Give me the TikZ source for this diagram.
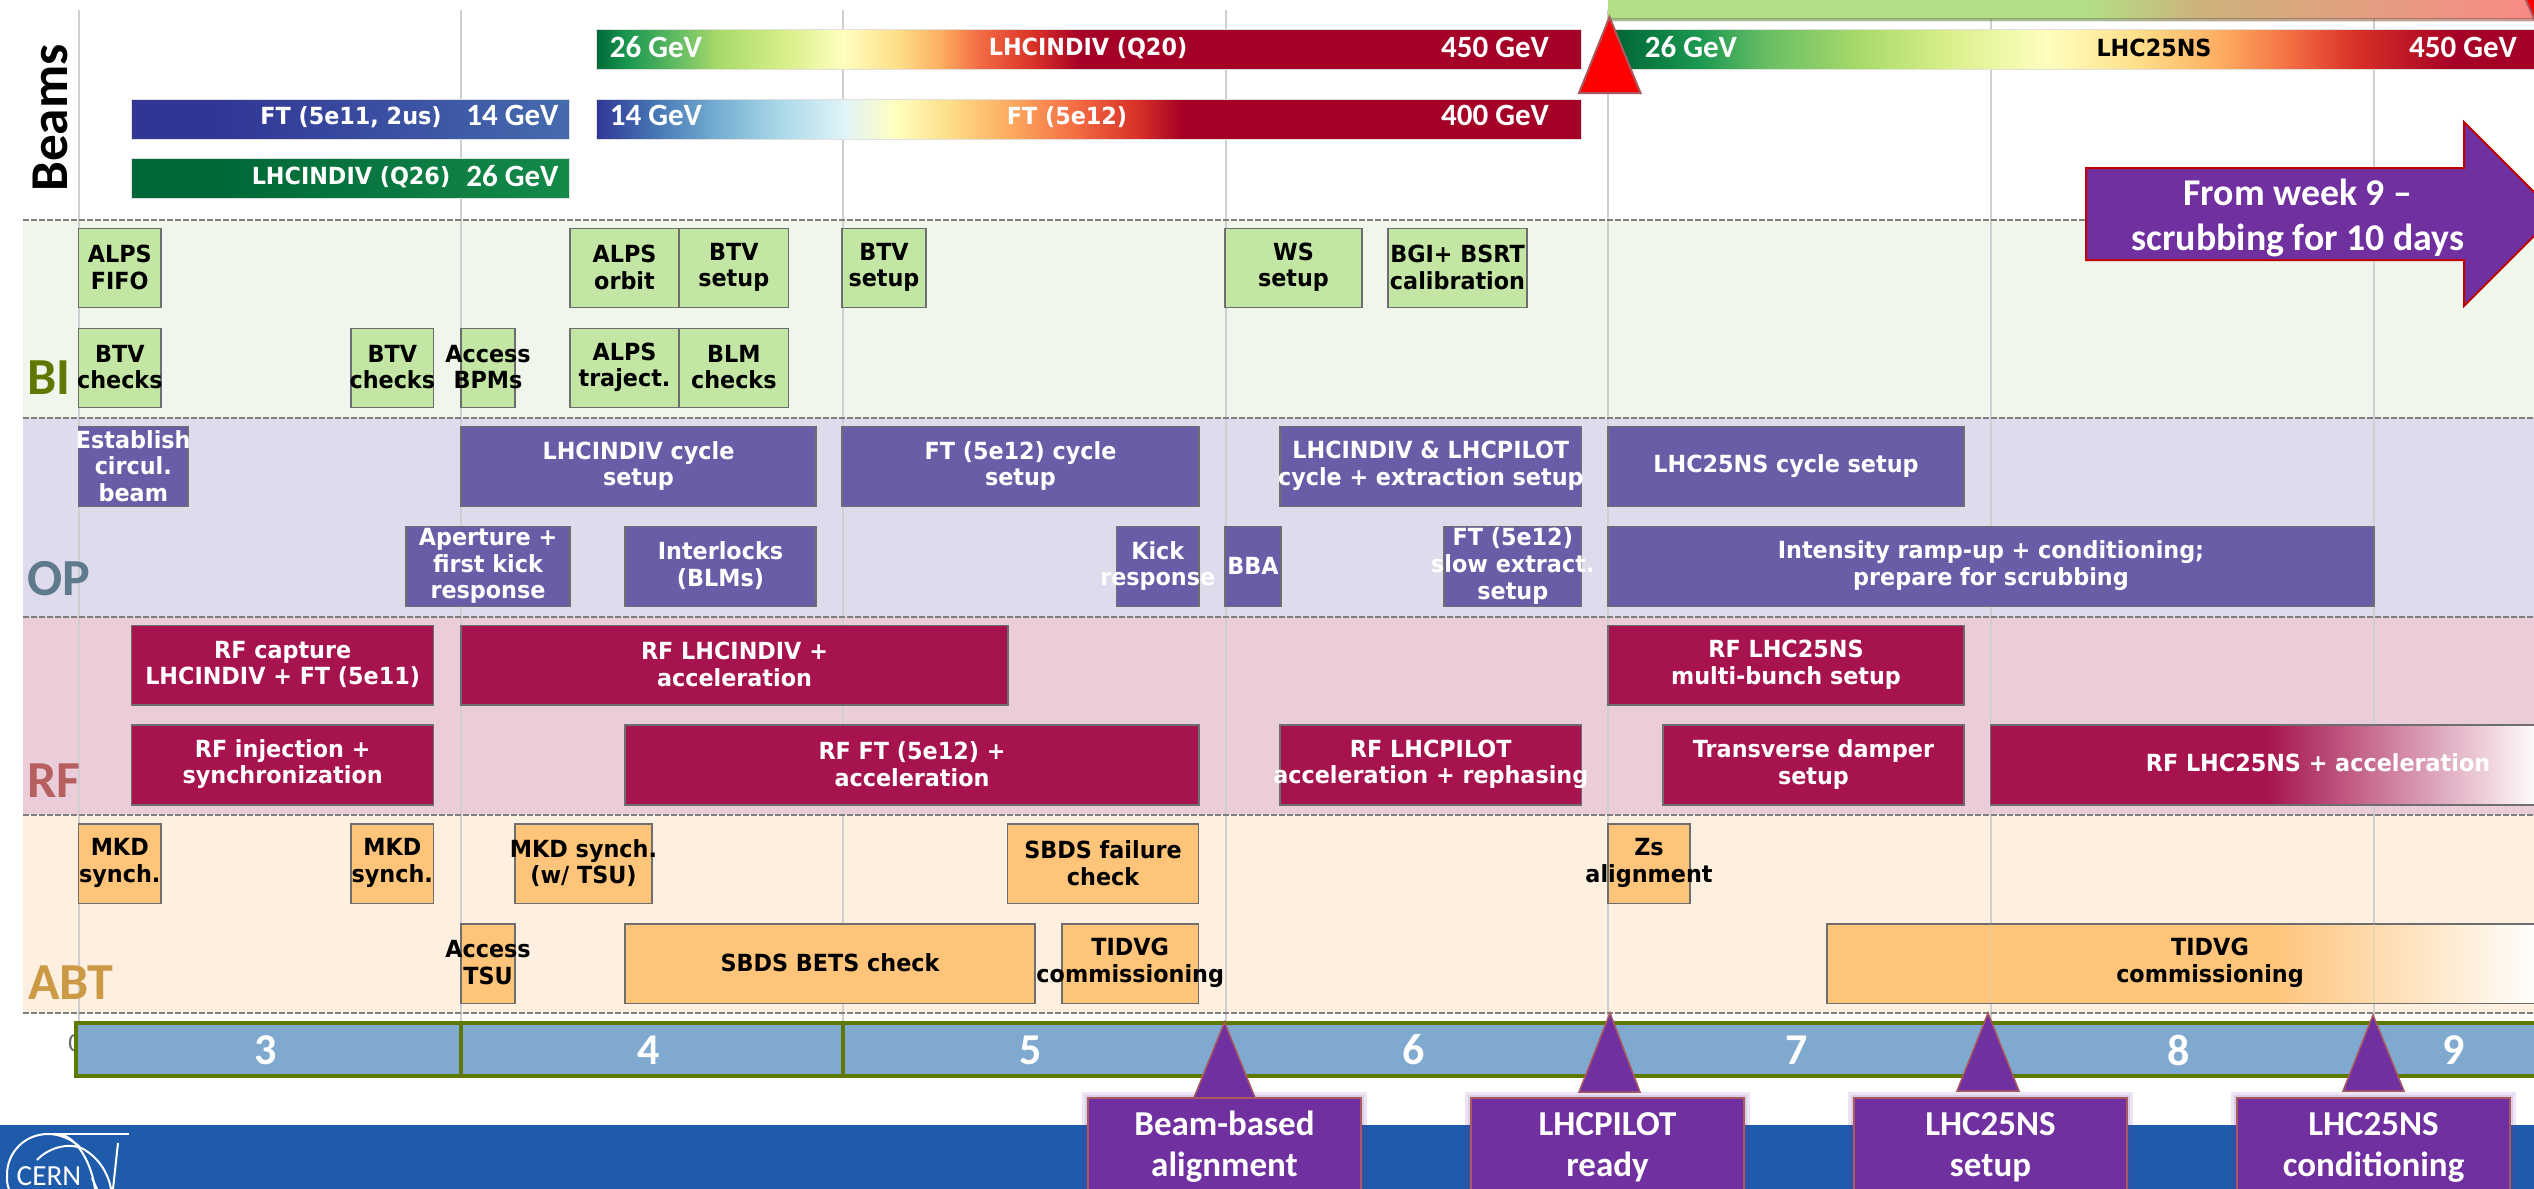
\documentclass[tikz,border=0pt]{standalone}
\usepackage{fontspec}
\setmainfont{Carlito}
\newfontfamily\boxfam{DejaVu Sans}[FakeStretch=0.945]
\definecolor{cg1}{HTML}{006837}\definecolor{cg2}{HTML}{1A9850}\definecolor{cg3}{HTML}{66BD63}
\definecolor{cg4}{HTML}{A6D96A}\definecolor{cg5}{HTML}{D9EF8B}\definecolor{cy}{HTML}{FFFFBF}
\definecolor{co1}{HTML}{FEE08B}\definecolor{co2}{HTML}{FDAE61}\definecolor{co3}{HTML}{F46D43}
\definecolor{cr1}{HTML}{D73027}\definecolor{cr2}{HTML}{A50026}
\definecolor{cb1}{HTML}{313695}\definecolor{cb2}{HTML}{4575B4}\definecolor{cb3}{HTML}{74ADD1}
\definecolor{cb4}{HTML}{ABD9E9}\definecolor{cb5}{HTML}{E0F3F8}
\definecolor{ftst}{HTML}{456BAE}\definecolor{qend}{HTML}{148A4A}
\definecolor{bandBI}{HTML}{F1F6EC}\definecolor{bandOP}{HTML}{DEDBEC}
\definecolor{bandRF}{HTML}{EBCCD9}\definecolor{bandABT}{HTML}{FEF0E0}
\definecolor{grnfill}{HTML}{C4E6A5}\definecolor{purfill}{HTML}{6A5DA8}
\definecolor{redfill}{HTML}{A6134E}\definecolor{orgfill}{HTML}{FEC479}
\definecolor{edgegray}{HTML}{6E6E6E}\definecolor{gridgray}{HTML}{CFCFCF}
\definecolor{dashgray}{HTML}{7F7F7F}
\definecolor{weekfill}{HTML}{7FA9CF}\definecolor{weekedge}{HTML}{5F7800}
\definecolor{callfill}{HTML}{7030A0}\definecolor{calledge}{HTML}{A85A60}
\definecolor{footblue}{HTML}{1F5BAB}
\definecolor{lblBI}{HTML}{5F7800}\definecolor{lblOP}{HTML}{5F7A8C}
\definecolor{lblRF}{HTML}{B5605F}\definecolor{lblABT}{HTML}{CC9944}
\definecolor{paleg}{HTML}{B3DE85}\definecolor{palet}{HTML}{CDB27C}\definecolor{palep}{HTML}{F98A84}
\pgfdeclarehorizontalshading{shQtwenty}{100bp}{color(0bp)=(cg1);color(25bp)=(cg1);color(26.6bp)=(cg2);color(29.2bp)=(cg3);color(31.1bp)=(cg4);color(34.7bp)=(cg5);color(37.5bp)=(cy);color(40.2bp)=(co1);color(42.5bp)=(co2);color(44.4bp)=(co3);color(47.3bp)=(cr1);color(49.6bp)=(cr2);color(100bp)=(cr2)}
\pgfdeclarehorizontalshading{shFTtwelve}{100bp}{color(0bp)=(cb1);color(25bp)=(cb1);color(27.9bp)=(cb2);color(31.1bp)=(cb3);color(34.4bp)=(cb4);color(37.6bp)=(cb5);color(40.2bp)=(cy);color(42.8bp)=(co1);color(45.8bp)=(co2);color(49.3bp)=(co3);color(52.5bp)=(cr1);color(54.8bp)=(cr2);color(100bp)=(cr2)}
\pgfdeclarehorizontalshading{shNS}{100bp}{color(0bp)=(cg1);color(25.6bp)=(cg1);color(29.9bp)=(cg2);color(33.4bp)=(cg3);color(38.4bp)=(cg4);color(43.4bp)=(cg5);color(48.7bp)=(cy);color(53.4bp)=(co1);color(58bp)=(co2);color(61.9bp)=(co3);color(65.4bp)=(cr1);color(70.8bp)=(cr2);color(100bp)=(cr2)}
\pgfdeclarehorizontalshading{shFTst}{100bp}{color(0bp)=(cb1);color(35bp)=(cb1);color(75bp)=(ftst);color(100bp)=(ftst)}
\pgfdeclarehorizontalshading{shQst}{100bp}{color(0bp)=(cg1);color(35bp)=(cg1);color(75bp)=(qend);color(100bp)=(qend)}
\pgfdeclarehorizontalshading{shPale}{100bp}{color(0bp)=(paleg);color(25bp)=(paleg);color(51bp)=(paleg);color(57bp)=(palet);color(75bp)=(palep);color(100bp)=(palep)}
\pgfdeclarehorizontalshading{shRedFade}{100bp}{color(0bp)=(redfill);color(50bp)=(redfill);color(75bp)=(white);color(100bp)=(white)}
\pgfdeclarehorizontalshading{shOrgFade}{100bp}{color(0bp)=(orgfill);color(56bp)=(orgfill);color(75bp)=(white);color(100bp)=(white)}
\newcommand{\taskbox}[7]{%
  \path[#2box] (#3,#4) rectangle (#5,#6);
  \node[#2text] (#1) at ({(#3+#5)/2},{(#4+#6)/2-0.8}) {#7};}
\newcommand{\barbox}[5]{\path[barbase,#1] (#2,#3) rectangle (#4,#5);}
\begin{document}
\begin{tikzpicture}[x=0.5pt,y=-0.5pt,
  boxfont/.style={font=\boxfam\bfseries\fontsize{11.8}{13.35}\selectfont,align=center,inner sep=0pt},
  boxedge/.style={draw=edgegray,line width=0.75pt},
  grnbox/.style={boxedge,fill=grnfill}, grntext/.style={boxfont,text=black},
  purbox/.style={boxedge,fill=purfill}, purtext/.style={boxfont,text=white},
  redbox/.style={boxedge,fill=redfill}, redtext/.style={boxfont,text=white},
  orgbox/.style={boxedge,fill=orgfill}, orgtext/.style={boxfont,text=black},
  barbase/.style={draw=black!12,line width=0.5pt},
  gevtext/.style={font=\bfseries\fontsize{15.5}{18}\selectfont,text=white,inner sep=0pt},
  beamtext/.style={boxfont,text=white},
  sectlabel/.style={font=\bfseries\fontsize{26}{30}\selectfont,inner sep=0pt},
  banddash/.style={draw=dashgray,line width=1pt,dash pattern=on 3pt off 1pt},
  gridline/.style={draw=gridgray,line width=0.75pt},
  weektext/.style={font=\bfseries\fontsize{22}{26}\selectfont,text=white,inner sep=0pt},
  calltext/.style={font=\bfseries\fontsize{17.5}{20.5}\selectfont,text=white,align=center,inner sep=0pt},
  callbox/.style={draw=calledge,line width=0.75pt,fill=callfill},
  callglow/.style={fill=callfill,opacity=0.13},
  logoline/.style={draw=white,line width=1pt}]
\useasboundingbox (0,0) rectangle (2534,1189);
\clip (0,0) rectangle (2534,1189);
\fill[white] (0,0) rectangle (2534,1189);
% bands
\fill[bandBI] (23,220) rectangle (2534,418);
\fill[bandOP] (23,418) rectangle (2534,616.5);
\fill[bandRF] (23,616.5) rectangle (2534,815);
\fill[bandABT] (23,815) rectangle (2534,1013);
% grid
\foreach \gx in {79,461,843,1226,1608,1991,2374}{\path[gridline] (\gx,10) -- (\gx,1022);}
% dashed separators
\foreach \gy in {220,418,616.5,815,1013}{\path[banddash] (23,\gy) -- (2534,\gy);}
% footer
\fill[footblue] (0,1125) rectangle (2534,1189);
% logo
\path[logoline] (43,1134) -- (129,1134);
\path[logoline] (80,1147) .. controls (71,1139) and (60,1134) .. (48,1134) .. controls (25,1134) and (7,1152) .. (7,1175) .. controls (7,1180) and (7,1185) .. (9,1189);
\path[logoline] (37,1160) .. controls (50,1146) and (72,1142) .. (85,1150) .. controls (98,1158) and (108,1172) .. (111,1189);
\path[logoline] (60,1134) .. controls (78,1138) and (92,1165) .. (95,1189);
\path[logoline] (118,1143) -- (113,1189);
\path[logoline] (92,1178) -- (97,1189);
\node[font=\fontsize{14.6}{16}\selectfont,text=white,inner sep=0pt] (logotext) at (49,1176) {CERN};
% beams
\barbox{shading=shFTst}{131.7}{99.7}{569.6}{139.3}
\barbox{shading=shQst}{131.7}{158.7}{569.6}{198.3}
\barbox{shading=shQtwenty}{596}{29.3}{1581}{69}
\barbox{shading=shFTtwelve}{596}{99.7}{1581}{139.3}
\barbox{shading=shNS}{1608}{29.3}{2534}{69}
\fill[shading=shPale] (1608,0) rectangle (2534,18);
\fill[shading=shPale,opacity=0.35] (1608,18) rectangle (2534,21);
\node[beamtext] (ftlabelA) at (351,117) {FT (5e11, 2us)};
\node[gevtext] (ftgevA) at (512.5,115) {14 GeV};
\node[beamtext] (qlabelA) at (351,177) {LHCINDIV (Q26)};
\node[gevtext] (qgevA) at (512.5,176) {26 GeV};
\node[gevtext] (qgevB) at (656,47) {26 GeV};
\node[beamtext] (qlabelB) at (1088,48) {LHCINDIV (Q20)};
\node[gevtext] (qgevC) at (1495,47) {450 GeV};
\node[gevtext] (ftgevB) at (656,115) {14 GeV};
\node[beamtext] (ftlabelB) at (1067,117) {FT (5e12)};
\node[gevtext] (ftgevC) at (1495,115) {400 GeV};
\node[gevtext] (nsgevA) at (1691,47) {26 GeV};
\node[beamtext,text=black] (nslabel) at (2154,48) {LHC25NS};
\node[gevtext] (nsgevB) at (2463,47) {450 GeV};
% red triangles
\path[draw=calledge,line width=1pt,fill=red] (1609.5,17) -- (1640.5,93) -- (1579,93) -- cycle;
\path[draw=calledge,line width=1pt,fill=red] (2525,-2) -- (2540,-2) -- (2540,32) -- cycle;
% section labels
\node[sectlabel,font=\bfseries\fontsize{26.6}{30}\selectfont,rotate=90,text=black] (lblBeams) at (50,118) {Beams};
\node[sectlabel,text=lblBI] (lblBI) at (49,378) {BI};
\node[sectlabel,text=lblOP] (lblOP) at (59,579) {OP};
\node[sectlabel,text=lblRF] (lblRF) at (54,781) {RF};
\node[sectlabel,text=lblABT] (lblABT) at (71,983) {ABT};
% BI
\taskbox{alpsfifo}{grn}{78.6}{228.3}{161}{307.7}{ALPS\\FIFO}
\taskbox{btvchecksA}{grn}{78.6}{328.3}{161}{407.7}{BTV\\checks}
\taskbox{btvchecksB}{grn}{351}{328.3}{433.6}{407.7}{BTV\\checks}
\taskbox{accessbpm}{grn}{461}{328.3}{515}{407.7}{Access\\BPMs}
\taskbox{alpsorbit}{grn}{570}{228.3}{679}{307.7}{ALPS\\orbit}
\taskbox{btvsetupA}{grn}{679}{228.3}{788.6}{307.7}{BTV\\setup}
\taskbox{alpstraj}{grn}{570}{328.3}{679}{407.7}{ALPS\\traject.}
\taskbox{blmchecks}{grn}{679}{328.3}{788.6}{407.7}{BLM\\checks}
\taskbox{btvsetupB}{grn}{842}{228.3}{926}{307.7}{BTV\\setup}
\taskbox{wssetup}{grn}{1225}{228.3}{1362}{307.7}{WS\\setup}
\taskbox{bgibsrt}{grn}{1388}{228.3}{1527}{307.7}{BGI+ BSRT\\calibration}
% OP
\taskbox{establish}{pur}{78.6}{426.7}{188}{506.7}{Establish\\circul.\\beam}
\taskbox{indivcycle}{pur}{461}{426.7}{816}{506.7}{LHCINDIV cycle\\setup}
\taskbox{ftcycle}{pur}{842}{426.7}{1199}{506.7}{FT (5e12) cycle\\setup}
\taskbox{pilotcycle}{pur}{1280}{426.7}{1581.6}{506.7}{LHCINDIV \& LHCPILOT\\cycle + extraction setup}
\taskbox{nscycle}{pur}{1608}{426.7}{1964}{506.7}{LHC25NS cycle setup}
\taskbox{aperture}{pur}{406}{526.7}{570}{606.7}{Aperture +\\first kick\\response}
\taskbox{interlocks}{pur}{625}{526.7}{816}{606.7}{Interlocks\\(BLMs)}
\taskbox{kickresp}{pur}{1116.5}{526.7}{1199}{606.7}{Kick\\response}
\taskbox{bba}{pur}{1225}{526.7}{1281}{606.7}{BBA}
\taskbox{slowext}{pur}{1444}{526.7}{1581.6}{606.7}{FT (5e12)\\slow extract.\\setup}
\taskbox{ramp}{pur}{1608}{526.7}{2374}{606.7}{Intensity ramp-up + conditioning;\\prepare for scrubbing}
% RF
\taskbox{rfcapture}{red}{131.7}{625.7}{433.6}{705}{RF capture\\LHCINDIV + FT (5e11)}
\taskbox{rfindiv}{red}{461}{625.7}{1008}{705}{RF LHCINDIV +\\acceleration}
\taskbox{rfmulti}{red}{1608}{625.7}{1964}{705}{RF LHC25NS\\multi-bunch setup}
\taskbox{rfinj}{red}{131.7}{725}{433.6}{805}{RF injection +\\synchronization}
\taskbox{rfft}{red}{625}{725}{1199}{805}{RF FT (5e12) +\\acceleration}
\taskbox{rfpilot}{red}{1280}{725}{1581.6}{805}{RF LHCPILOT\\acceleration + rephasing}
\taskbox{damper}{red}{1663}{725}{1964}{805}{Transverse damper\\setup}
\path[boxedge,shading=shRedFade] (1990.5,725) rectangle (2540,805);
\node[redtext] (rfns) at (2318,763) {RF LHC25NS + acceleration};
% ABT
\taskbox{mkdA}{org}{78.6}{824}{161}{903.7}{MKD\\synch.}
\taskbox{mkdB}{org}{351}{824}{433.6}{903.7}{MKD\\synch.}
\taskbox{mkdtsu}{org}{515}{824}{652}{903.7}{MKD synch.\\(w/ TSU)}
\taskbox{sbdsfail}{org}{1007.6}{824}{1198.5}{903.7}{SBDS failure\\check}
\taskbox{zs}{org}{1608}{824}{1690}{903.7}{Zs\\alignment}
\taskbox{accesstsu}{org}{461}{924}{515}{1003.3}{Access\\TSU}
\taskbox{sbdsbets}{org}{625}{924}{1035}{1003.3}{SBDS BETS check}
\taskbox{tidvgA}{org}{1062}{924}{1198.5}{1003.3}{TIDVG\\commissioning}
\path[boxedge,shading=shOrgFade] (1827,924) rectangle (2540,1003.3);
\path[gridline,opacity=0.35] (1991,924) -- (1991,1003);
\path[gridline,opacity=0.35] (2374,924) -- (2374,1003);
\node[orgtext] (tidvgB) at (2210,962.5) {TIDVG\\commissioning};
% week bar
\node[font=\fontsize{13}{15}\selectfont,text=black!60,inner sep=0pt] (zeromark) at (75,1043) {0};
\path[draw=weekedge,line width=2pt,fill=weekfill] (76,1023) rectangle (2545,1075.5);
\path[draw=weekedge,line width=2pt] (461,1023) -- (461,1075.5);
\path[draw=weekedge,line width=2pt] (843,1023) -- (843,1075.5);
\node[weektext] (wkA) at (265.6,1050) {3};
\node[weektext] (wkB) at (649,1050) {4};
\node[weektext] (wkC) at (1031,1050) {5};
\node[weektext] (wkD) at (1414,1050) {6};
\node[weektext] (wkE) at (1797,1050) {7};
\node[weektext] (wkF) at (2179,1050) {8};
\node[weektext] (wkG) at (2454,1050) {9};
% arrow
\path[draw=red!75!black,line width=1pt,fill=callfill] (2086,168) -- (2464,168) -- (2464,122) -- (2556,214) -- (2464,306) -- (2464,260) -- (2086,260) -- cycle;
\node[calltext,font=\bfseries\fontsize{18.9}{22.5}\selectfont] (fromweek) at (2298,218) {From week 9 –\\scrubbing for 10 days};
% callouts
\path[callbox] (1224.5,1022) -- (1255,1097.7) -- (1194,1097.7) -- cycle;
\path[callbox] (1610,1013) -- (1640,1092) -- (1579,1092) -- cycle;
\path[callbox] (1988,1013) -- (2019,1091) -- (1957,1091) -- cycle;
\path[callbox] (2373,1015) -- (2404,1091) -- (2343,1091) -- cycle;
\foreach \cxa/\cxb in {1088/1361,1471/1744,1854/2127,2237/2510}{
  \fill[callglow] (\cxa-6,1092) rectangle (\cxb+6,1195);
  \fill[callglow] (\cxa-3,1095) rectangle (\cxb+3,1195);
  \path[callbox] (\cxa,1098) rectangle (\cxb,1195);
}
\node[calltext] (callA) at (1224.5,1147) {Beam-based\\alignment};
\node[calltext] (callB) at (1607.5,1147) {LHCPILOT\\ready};
\node[calltext] (callC) at (1990.5,1147) {LHC25NS\\setup};
\node[calltext] (callD) at (2373.5,1147) {LHC25NS\\conditioning};
\end{tikzpicture}
\end{document}
